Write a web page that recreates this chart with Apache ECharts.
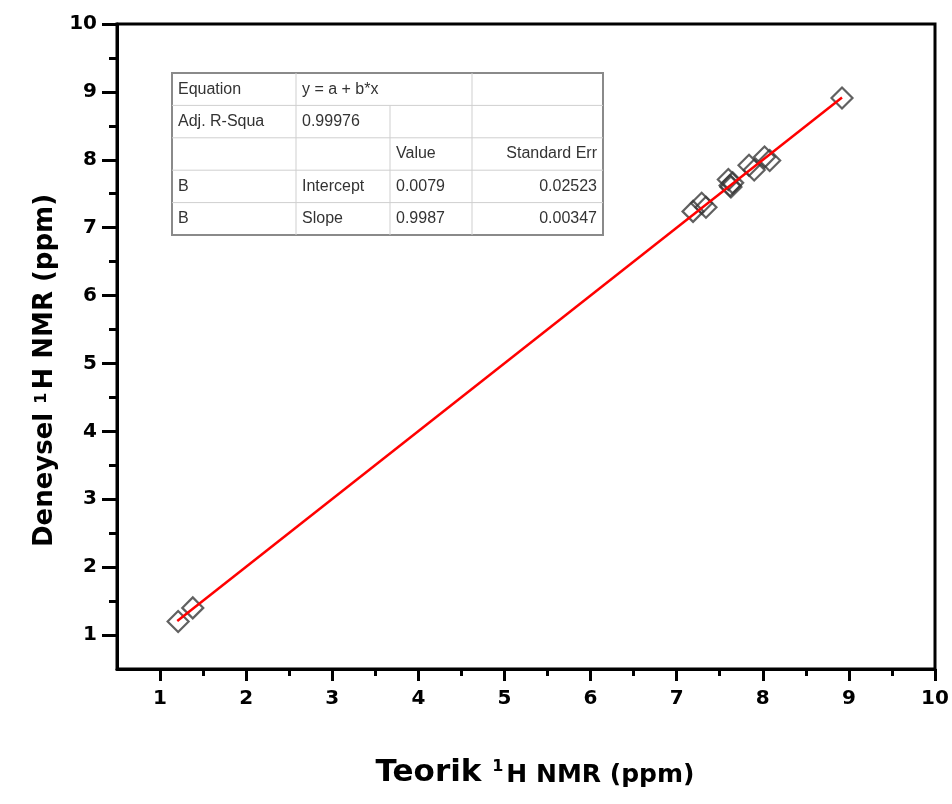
<!DOCTYPE html>
<html>
<head>
<meta charset="utf-8">
<script src="https://cdn.jsdelivr.net/npm/echarts@6/dist/echarts.min.js"></script>
<style>html,body{margin:0;padding:0;background:#fff;}#c{width:952px;height:804px;}</style>
</head>
<body>
<div id="c"></div>
<script>
// ---- data ----
var teorik   = [1.21, 1.38, 7.19, 7.29, 7.34, 7.60, 7.62, 7.65, 7.63, 7.84, 7.90, 8.02, 8.08, 8.92];
var deneysel = [1.20, 1.40, 7.24, 7.36, 7.30, 7.71, 7.62, 7.66, 7.60, 7.92, 7.85, 8.04, 7.99, 8.91];
var fitX = [1.20, 8.92];
var fitY = [1.206, 8.916];
var majorTicks = [1, 2, 3, 4, 5, 6, 7, 8, 9, 10];
var minorTicks = [1.5, 2.5, 3.5, 4.5, 5.5, 6.5, 7.5, 8.5, 9.5];
var tableRows = [
  ['Equation', 'y = a + b*x', '', ''],
  ['Adj. R-Squa', '0.99976', '', ''],
  ['', '', 'Value', 'Standard Err'],
  ['B', 'Intercept', '0.0079', '0.02523'],
  ['B', 'Slope', '0.9987', '0.00347']
];

// ---- table graphic ----
var colX = [172, 296, 390, 472, 603];
var rowY = [73, 105.4, 137.8, 170.2, 202.6, 235];
var g = [];
g.push({type:'rect', shape:{x:colX[0], y:rowY[0], width:colX[4]-colX[0], height:rowY[5]-rowY[0]},
  style:{fill:'#fff', stroke:'#8a8a8a', lineWidth:2}, z:10});
for (var r = 1; r < 5; r++) {
  g.push({type:'line', shape:{x1:colX[0], y1:rowY[r], x2:colX[4], y2:rowY[r]}, style:{stroke:'#cfcfcf', lineWidth:1}, z:11});
}
for (var c = 1; c < 4; c++) {
  var y1 = (c === 2) ? rowY[1] : rowY[0];
  g.push({type:'line', shape:{x1:colX[c], y1:y1, x2:colX[c], y2:rowY[5]}, style:{stroke:'#cfcfcf', lineWidth:1}, z:11});
}
tableRows.forEach(function(row, ri){
  row.forEach(function(txt, ci){
    if (!txt) return;
    var right = (ci === 3);
    g.push({type:'text', z:12,
      x: right ? colX[4]-6 : colX[ci]+6,
      y: (rowY[ri]+rowY[ri+1])/2,
      style:{text:txt, fill:'#333', font:'16px "Liberation Sans", Arial, sans-serif',
        align: right ? 'right' : 'left', textAlign: right ? 'right' : 'left',
        verticalAlign:'middle', textVerticalAlign:'middle'}});
  });
});

function rich(bigSize, nSize, supSize) {
  return {
    b:{fontSize:bigSize, fontWeight:'bold', fontFamily:'DejaVu Sans', color:'#000', lineHeight:bigSize, verticalAlign:'bottom'},
    s:{fontSize:supSize, fontWeight:'bold', fontFamily:'DejaVu Sans', color:'#000', lineHeight:supSize, verticalAlign:'top', padding:[2,3,0,0]},
    n:{fontSize:nSize, fontFamily:'DejaVu Sans', fontWeight:'bold', color:'#000', lineHeight:nSize, verticalAlign:'bottom'}
  };
}

function mkAxis(pos, nameStr, nameGap, pad, rt, tickLen, minorLen, margin) {
  return [{
    type:'value', min:0.5, max:10, position:pos,
    name:nameStr, nameLocation:'middle', nameGap:nameGap,
    nameTextStyle:{rich:rt, padding:pad},
    axisLine:{show:true, onZero:false, lineStyle:{color:'#000', width:3}},
    axisTick:{show:true, inside:false, length:tickLen, customValues:majorTicks, lineStyle:{color:'#000', width:3}},
    axisLabel:{show:true, customValues:majorTicks, margin:margin, color:'#000',
      fontSize:20, fontWeight:'bold', fontFamily:'DejaVu Sans'},
    splitLine:{show:false}
  },{
    type:'value', min:0.5, max:10, position:pos,
    axisLine:{show:false, onZero:false},
    axisTick:{show:true, inside:false, length:minorLen, customValues:minorTicks, lineStyle:{color:'#000', width:3}},
    axisLabel:{show:false},
    splitLine:{show:false}
  }];
}

var chart = echarts.init(document.getElementById('c'), null, {renderer:'canvas'});
chart.setOption({
  animation:false,
  backgroundColor:'#fff',
  grid:{left:117, right:17, top:24, bottom:135, show:true, borderColor:'#000', borderWidth:3, backgroundColor:'transparent'},
  xAxis: mkAxis('bottom', '{b|Teorik }{s|1}{n|H NMR (ppm)}', 88, [0,0,0,18], rich(31, 25, 16), 12, 7, 20),
  yAxis: mkAxis('left', '{b|Deneysel }{s|1}{n|H NMR (ppm)}', 56, [0,48,0,0], rich(26, 26, 16), 15, 8, 20),
  series:[
    {type:'scatter', xAxisIndex:0, yAxisIndex:0, data:teorik.map(function(x,i){return [x, deneysel[i]];}),
      symbol:'diamond', symbolSize:21, itemStyle:{color:'rgba(255,255,255,0)', borderColor:'#3a3a3a', borderWidth:2.2}, z:2},
    {type:'line', xAxisIndex:0, yAxisIndex:0, data:fitX.map(function(x,i){return [x, fitY[i]];}),
      showSymbol:false, symbol:'none', lineStyle:{color:'#ff0000', width:2.5}, z:3}
  ],
  graphic:g
});
</script>
</body>
</html>
